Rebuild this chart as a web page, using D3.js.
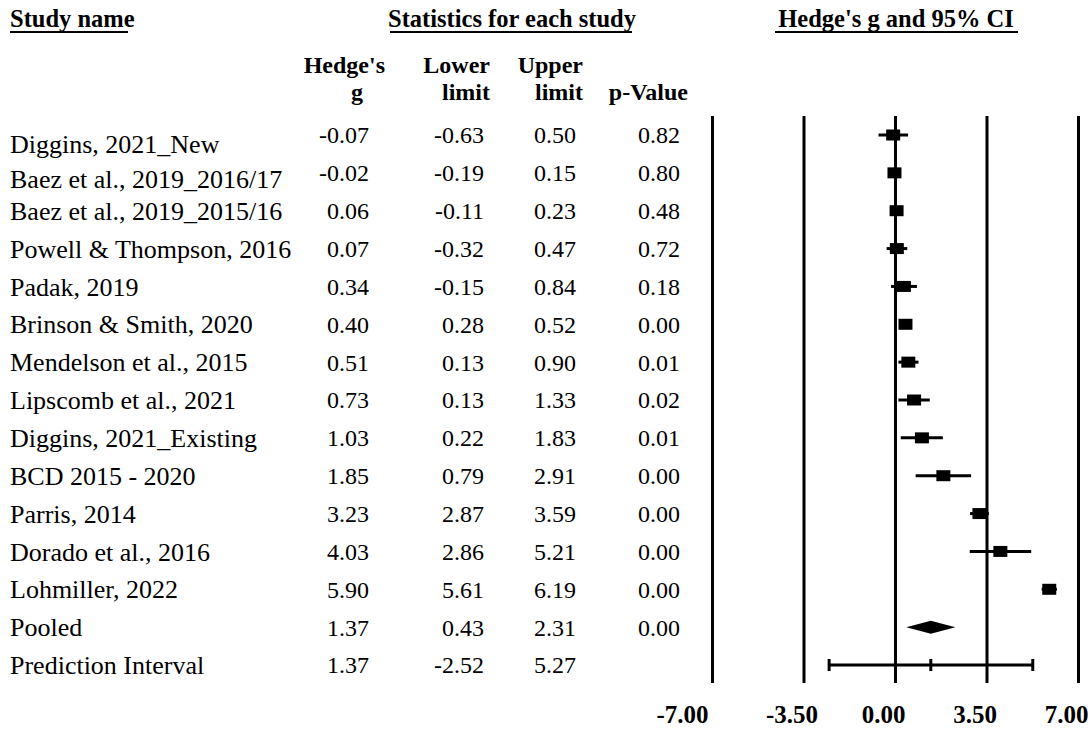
<!DOCTYPE html>
<html>
<head>
<meta charset="utf-8">
<script src="https://cdn.jsdelivr.net/npm/d3@7"></script>
<style>
  html, body { margin: 0; padding: 0; background: #fff; }
  svg { display: block; font-family: "Liberation Serif", "Times New Roman", serif; }
</style>
</head>
<body>
<div id="chart"></div>
<script>
// study rows, then the pooled estimate and the prediction interval
const studyNames = [
  'Diggins, 2021_New',
  'Baez et al., 2019_2016/17',
  'Baez et al., 2019_2015/16',
  'Powell & Thompson, 2016',
  'Padak, 2019',
  'Brinson & Smith, 2020',
  'Mendelson et al., 2015',
  'Lipscomb et al., 2021',
  'Diggins, 2021_Existing',
  'BCD 2015 - 2020',
  'Parris, 2014',
  'Dorado et al., 2016',
  'Lohmiller, 2022',
  'Pooled',
  'Prediction Interval'
];
const rowKinds = ['study', 'study', 'study', 'study', 'study', 'study', 'study',
  'study', 'study', 'study', 'study', 'study', 'study', 'pooled', 'prediction'];
const hedgesG = [-0.07, -0.02, 0.06, 0.07, 0.34, 0.40, 0.51, 0.73, 1.03, 1.85, 3.23, 4.03, 5.90, 1.37, 1.37];
const lowerLimit = [-0.63, -0.19, -0.11, -0.32, -0.15, 0.28, 0.13, 0.13, 0.22, 0.79, 2.87, 2.86, 5.61, 0.43, -2.52];
const upperLimit = [0.50, 0.15, 0.23, 0.47, 0.84, 0.52, 0.90, 1.33, 1.83, 2.91, 3.59, 5.21, 6.19, 2.31, 5.27];
const pValues = [0.82, 0.80, 0.48, 0.72, 0.18, 0.00, 0.01, 0.02, 0.01, 0.00, 0.00, 0.00, 0.00, 0.00, null];
const axisTicks = [-7, -3.5, 0, 3.5, 7];

const rows = studyNames.map((name, i) => ({
  name,
  kind: rowKinds[i],
  g: hedgesG[i],
  lo: lowerLimit[i],
  hi: upperLimit[i],
  p: pValues[i]
}));

const width = 1092;
const height = 731;
// plain hyphen for negatives, like the original
const fmt = v => d3.format('.2f')(v).replace('\u2212', '-');

const svg = d3.select('#chart')
  .append('svg')
  .attr('width', width)
  .attr('height', height);

const y = d3.scalePoint()
  .domain(studyNames)
  .range([135, 665]);

const x = d3.scaleLinear()
  .domain([-7, 7])
  .range([712, 1078]);

const plotTop = 116;
const plotBottom = 683;

// top headings
const headings = [
  { text: 'Study name', x: 10, anchor: 'start', u: [10, 128] },
  { text: 'Statistics for each study', x: 512, anchor: 'middle', u: [390, 632] },
  { text: "Hedge's g and 95% CI", x: 896, anchor: 'middle', u: [775, 1018] }
];
headings.forEach(h => {
  svg.append('text')
    .attr('x', h.x)
    .attr('y', 27)
    .attr('text-anchor', h.anchor)
    .attr('font-size', '24.5px')
    .attr('font-weight', 'bold')
    .text(h.text);
  svg.append('line')
    .attr('x1', h.u[0]).attr('x2', h.u[1])
    .attr('y1', 32).attr('y2', 32)
    .attr('stroke', '#000')
    .attr('stroke-width', 2);
});

// column headers and columns
const columns = [
  { head: ["Hedge's", 'g'], right: 385, valRight: 369, get: d => d.g },
  { head: ['Lower', 'limit'], right: 490, valRight: 484, get: d => d.lo },
  { head: ['Upper', 'limit'], right: 583, valRight: 576, get: d => d.hi },
  { head: ['', 'p-Value'], right: 688, valRight: 680, get: d => d.p }
];

columns.forEach((c, ci) => {
  c.head.forEach((t, li) => {
    const isG = ci === 0 && li === 1;
    svg.append('text')
      .attr('x', isG ? 357 : c.right)
      .attr('y', 73 + li * 27)
      .attr('text-anchor', isG ? 'middle' : 'end')
      .attr('font-size', '24px')
      .attr('font-weight', 'bold')
      .text(t);
  });

  svg.append('g')
    .selectAll('text')
    .data(rows.filter(d => c.get(d) !== null))
    .join('text')
    .attr('x', c.valRight)
    .attr('y', d => y(d.name))
    .attr('dy', '0.35em')
    .attr('text-anchor', 'end')
    .attr('font-size', '24px')
    .text(d => fmt(c.get(d)));
});

// study names (first two sit a bit lower in the original)
const nameNudge = [9, 6, 0, 0, 0, 0, 0, 0, 0, 0, 0, 0, 0, 0, 0];
svg.append('g')
  .selectAll('text')
  .data(rows)
  .join('text')
  .attr('x', 10)
  .attr('y', (d, i) => y(d.name) + nameNudge[i])
  .attr('dy', '0.35em')
  .attr('font-size', '26px')
  .text(d => d.name);

// vertical reference lines via the axis
const axis = svg.append('g')
  .attr('transform', `translate(0,${plotBottom})`)
  .call(d3.axisBottom(x)
    .tickValues(axisTicks)
    .tickSize(-(plotBottom - plotTop))
    .tickPadding(22)
    .tickFormat(fmt));

axis.select('.domain').remove();
axis.selectAll('.tick line')
  .attr('stroke', '#000')
  .attr('stroke-width', 3);
axis.selectAll('.tick text')
  .attr('fill', '#000')
  .attr('font-family', '"Liberation Serif", "Times New Roman", serif')
  .attr('font-size', '25px')
  .attr('font-weight', 'bold')
  .attr('dx', d => d === -7 ? '-30' : '-12');

const marks = svg.append('g');

// confidence intervals for studies
const studyRows = rows.filter(d => d.kind === 'study');
marks.selectAll('.ci')
  .data(studyRows)
  .join('line')
  .attr('class', 'ci')
  .attr('x1', d => x(d.lo))
  .attr('x2', d => x(d.hi))
  .attr('y1', d => y(d.name))
  .attr('y2', d => y(d.name))
  .attr('stroke', '#000')
  .attr('stroke-width', 3);

marks.selectAll('.box')
  .data(studyRows)
  .join('rect')
  .attr('class', 'box')
  .attr('x', d => x(d.g) - 7)
  .attr('y', d => y(d.name) - 5.5)
  .attr('width', 14)
  .attr('height', 11)
  .attr('fill', '#000');

// pooled diamond
const pooled = rows.find(d => d.kind === 'pooled');
marks.append('path')
  .attr('d', () => {
    const cy = y(pooled.name);
    return `M${x(pooled.lo)},${cy} L${x(pooled.g)},${cy - 6.5} L${x(pooled.hi)},${cy} L${x(pooled.g)},${cy + 6.5} Z`;
  })
  .attr('fill', '#000');

// prediction interval
const pred = rows.find(d => d.kind === 'prediction');
const py = y(pred.name);
marks.append('line')
  .attr('x1', x(pred.lo)).attr('x2', x(pred.hi))
  .attr('y1', py).attr('y2', py)
  .attr('stroke', '#000')
  .attr('stroke-width', 3);
marks.selectAll('.cap')
  .data([pred.lo, pred.g, pred.hi])
  .join('line')
  .attr('class', 'cap')
  .attr('x1', d => x(d)).attr('x2', d => x(d))
  .attr('y1', py - 6).attr('y2', py + 6)
  .attr('stroke', '#000')
  .attr('stroke-width', 3);
</script>
</body>
</html>
